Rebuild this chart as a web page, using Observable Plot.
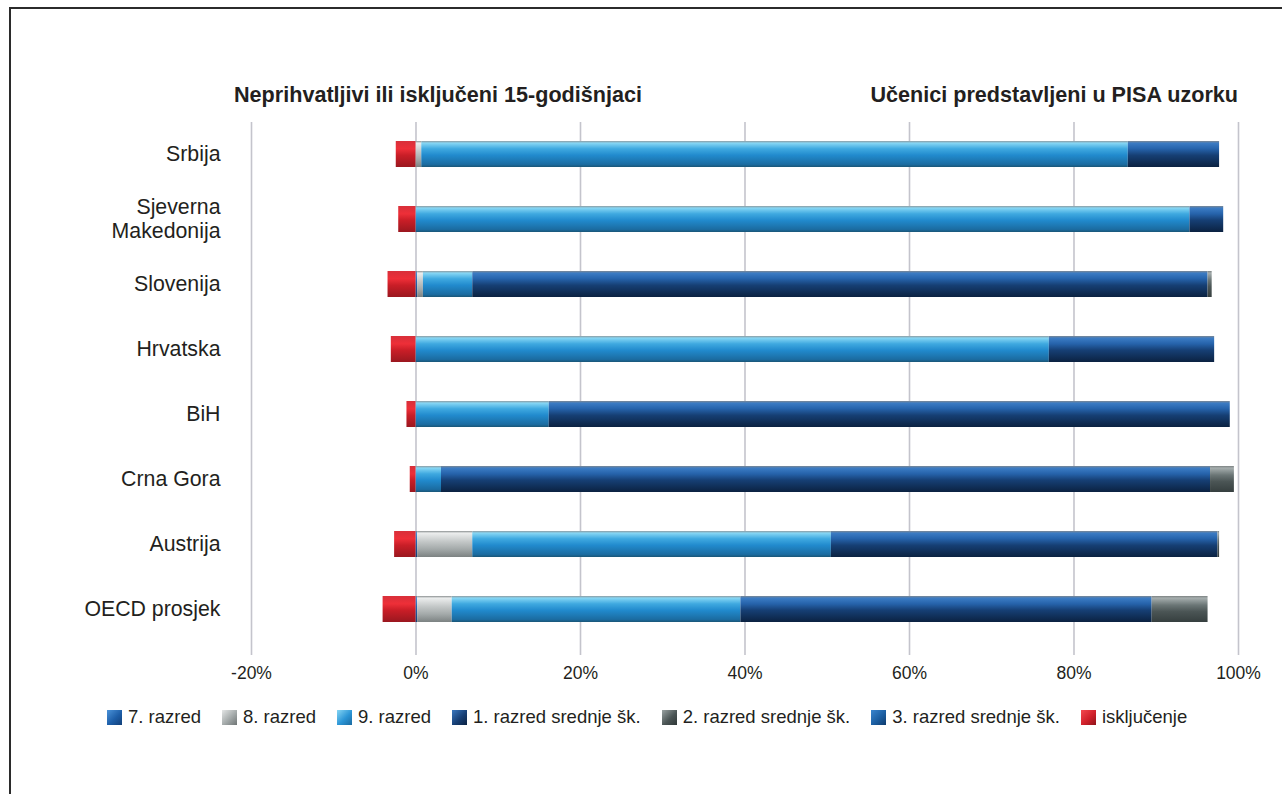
<!DOCTYPE html>
<html>
<head>
<meta charset="utf-8">
<script src="https://cdn.jsdelivr.net/npm/d3@7"></script>
<script src="https://cdn.jsdelivr.net/npm/@observablehq/plot@0.6"></script>
<style>
  html, body { margin: 0; padding: 0; background: #fff; }
  body { font-family: "Liberation Sans", Arial, Helvetica, sans-serif; color: #231f20; }
  #wrap { position: relative; width: 1282px; height: 794px; overflow: hidden; }
  #frame { position: absolute; left: 9px; top: 7px; width: 1400px; height: 900px;
           border-left: 2.5px solid #2b2b2b; border-top: 2.5px solid #2b2b2b; }
  #chart { position: absolute; left: 0; top: 0; }
  .hdr { position: absolute; top: 83px; font-weight: bold; font-size: 21.6px; line-height: 24px; white-space: nowrap; }
  #legend { position: absolute; left: 107px; top: 706px; display: flex; gap: 21px; font-size: 18.5px; line-height: 22px; white-space: nowrap; }
  .li { display: flex; align-items: center; gap: 6px; }
  .sw { width: 15px; height: 15px; display: inline-block; }
</style>
</head>
<body>
<div id="wrap">
  <div id="frame"></div>
  <div id="chart"></div>
  <div class="hdr" id="h1" style="left:234px">Neprihvatljivi ili isključeni 15-godišnjaci</div>
  <div class="hdr" id="h2" style="right:44px">Učenici predstavljeni u PISA uzorku</div>
  <div id="legend"></div>
</div>
<script>
// ---- data ----
const countries = ["Srbija", "Sjeverna Makedonija", "Slovenija", "Hrvatska", "BiH", "Crna Gora", "Austrija", "OECD prosjek"];
const seriesNames = ["7. razred", "8. razred", "9. razred", "1. razred srednje šk.", "2. razred srednje šk.", "3. razred srednje šk.", "isključenje"];
const razred7  = [0.0, 0.0, 0.2, 0.0, 0.0, 0.0, 0.2, 0.2];
const razred8  = [0.7, 0.0, 0.7, 0.0, 0.0, 0.0, 6.7, 4.2];
const razred9  = [85.9, 94.1, 6.0, 77.0, 16.2, 3.1, 43.6, 35.1];
const srednja1 = [11.1, 4.1, 89.4, 20.1, 82.8, 93.5, 47.0, 50.0];
const srednja2 = [0.0, 0.0, 0.5, 0.0, 0.0, 2.9, 0.2, 6.8];
const srednja3 = [0.0, 0.0, 0.0, 0.0, 0.0, 0.0, 0.0, 0.0];
const iskljucenje = [-2.4, -2.1, -3.4, -3.0, -1.1, -0.7, -2.6, -4.0];
const xTicks = [-20, 0, 20, 40, 60, 80, 100];
const xTickLabels = ["-20%", "0%", "20%", "40%", "60%", "80%", "100%"];

// ---- styles (gradients) ----
const gradIds = ["g7", "g8", "g9", "gs1", "gs2", "gs3", "gis"];
const gradStops = {
  g7:  [[0, "#7a8590"], [0.08, "#4a8fd6"], [0.4, "#2467b3"], [1, "#123f78"]],
  g8:  [[0, "#8a8f90"], [0.08, "#eceeee"], [0.4, "#c4c8c8"], [0.7, "#a3a9a9"], [1, "#7c8282"]],
  g9:  [[0, "#8e9ca2"], [0.08, "#86d6f4"], [0.3, "#3fa9e0"], [0.55, "#218acd"], [0.9, "#1b6ca1"], [1, "#1a5677"]],
  gs1: [[0, "#7d8893"], [0.08, "#3c7cc4"], [0.3, "#2663ab"], [0.55, "#163f74"], [1, "#0b2241"]],
  gs2: [[0, "#7c8282"], [0.08, "#a6aeae"], [0.35, "#6b7676"], [0.6, "#4b5555"], [1, "#363f3f"]],
  gs3: [[0, "#7a8590"], [0.08, "#3a86cf"], [0.4, "#1b62a8"], [1, "#0f3b6c"]],
  gis: [[0, "#d8303a"], [0.3, "#ee2f38"], [0.55, "#c91e27"], [1, "#9a171f"]]
};
const legendCss = {
  g7:  "linear-gradient(135deg,#4b93d9,#1d5ea8 55%,#123f78)",
  g8:  "linear-gradient(135deg,#e4e6e6,#a3a9a9 55%,#6f7575)",
  g9:  "linear-gradient(135deg,#86d6f4,#2b95d6 55%,#1a6aa0)",
  gs1: "linear-gradient(135deg,#3a78c0,#173f75 55%,#0b2241)",
  gs2: "linear-gradient(135deg,#9aa2a2,#4b5555 55%,#2f3737)",
  gs3: "linear-gradient(135deg,#3a86cf,#1b5ea2 55%,#0f3b6c)",
  gis: "linear-gradient(135deg,#f44a50,#d0202a 55%,#8e141b)"
};

const seriesValues = [razred7, razred8, razred9, srednja1, srednja2, srednja3, iskljucenje];
const rows = [];
countries.forEach((c, i) => {
  seriesNames.forEach((s, k) => {
    const v = seriesValues[k][i];
    if (v !== 0) rows.push({country: c, series: s, value: v});
  });
});

const plot = Plot.plot({
  width: 1282,
  height: 700,
  marginLeft: 251,
  marginRight: 44,
  marginTop: 122,
  marginBottom: 45,
  style: {fontFamily: "'Liberation Sans', Arial, Helvetica, sans-serif", color: "#231f20", background: "transparent"},
  x: {domain: [-20, 100], label: null},
  y: {domain: countries, range: [121.5, 641.5], paddingInner: 0.6, paddingOuter: 0.3, axis: null},
  color: {type: "ordinal", domain: seriesNames, range: gradIds.map(id => `url(#${id})`)},
  marks: [
    Plot.ruleX(xTicks, {stroke: "#c4c4cc", strokeWidth: 1.6}),
    Plot.barX(rows, {x: "value", y: "country", fill: "series", order: seriesNames}),
    Plot.axisX({ticks: xTicks, tickFormat: d => xTickLabels[xTicks.indexOf(d)], tickSize: 0, tickPadding: 11, fontSize: 17.5, fill: "#231f20", label: null}),
    Plot.text(countries, {
      y: d => d,
      text: d => d === "Sjeverna Makedonija" ? "Sjeverna\nMakedonija" : d,
      frameAnchor: "left", textAnchor: "end", dx: -31, dy: -1, lineHeight: 1.12,
      fontSize: 21.3, fill: "#231f20"
    })
  ]
});

// add gradient defs
const svg = d3.select(plot);
const defs = svg.insert("defs", ":first-child");
gradIds.forEach(id => {
  const g = defs.append("linearGradient").attr("id", id).attr("x1", 0).attr("y1", 0).attr("x2", 0).attr("y2", 1);
  gradStops[id].forEach(([o, c]) => g.append("stop").attr("offset", o).attr("stop-color", c));
});
document.getElementById("chart").appendChild(plot);

// legend
const legend = document.getElementById("legend");
seriesNames.forEach((s, k) => {
  const item = document.createElement("div");
  item.className = "li";
  const sw = document.createElement("span");
  sw.className = "sw";
  sw.style.background = legendCss[gradIds[k]];
  const t = document.createElement("span");
  t.textContent = s;
  item.appendChild(sw);
  item.appendChild(t);
  legend.appendChild(item);
});
</script>
</body>
</html>
